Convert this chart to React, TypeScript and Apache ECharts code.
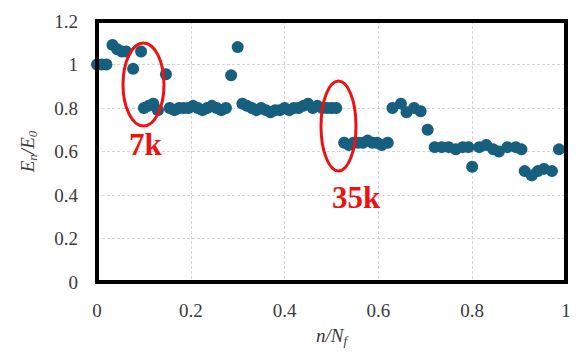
import React, { useEffect, useRef } from "react";
import * as echarts from "echarts";

const xValues = [
  0.0, 0.01, 0.02, 0.033, 0.043, 0.053, 0.062, 0.077, 0.094,
  0.1, 0.11, 0.12, 0.13, 0.147, 0.155, 0.165, 0.175, 0.185, 0.195, 0.205, 0.215, 0.225, 0.235, 0.245, 0.255, 0.265, 0.275,
  0.286, 0.3, 0.31, 0.32, 0.33, 0.34, 0.35, 0.36, 0.37, 0.38, 0.39, 0.4, 0.41, 0.42, 0.43, 0.44, 0.45, 0.46, 0.47, 0.48, 0.49, 0.5, 0.51,
  0.527, 0.537, 0.547, 0.557, 0.567, 0.577, 0.587, 0.597, 0.607, 0.62,
  0.63, 0.648, 0.66, 0.676, 0.69, 0.705,
  0.72, 0.735, 0.75, 0.765, 0.78, 0.792, 0.8, 0.815, 0.83, 0.845, 0.857, 0.875, 0.893, 0.905,
  0.912, 0.927, 0.94, 0.953, 0.97, 0.985,
];
const yValues = [
  1.0, 1.0, 1.0, 1.09, 1.07, 1.06, 1.06, 0.98, 1.06,
  0.8, 0.81, 0.82, 0.79, 0.955, 0.8, 0.79, 0.8, 0.8, 0.8, 0.81, 0.8, 0.79, 0.8, 0.81, 0.8, 0.79, 0.8,
  0.95, 1.08, 0.82, 0.81, 0.8, 0.79, 0.8, 0.79, 0.78, 0.79, 0.79, 0.8, 0.79, 0.8, 0.8, 0.81, 0.82, 0.8, 0.81, 0.8, 0.8, 0.8, 0.8,
  0.64, 0.63, 0.64, 0.64, 0.64, 0.65, 0.64, 0.64, 0.63, 0.64,
  0.8, 0.82, 0.78, 0.8, 0.785, 0.7,
  0.62, 0.62, 0.62, 0.61, 0.62, 0.62, 0.53, 0.62, 0.63, 0.61, 0.6, 0.62, 0.62, 0.61,
  0.51, 0.49, 0.51, 0.52, 0.51, 0.61,
];
const xTicks = [0, 0.2, 0.4, 0.6, 0.8, 1];
const yTicks = [0, 0.2, 0.4, 0.6, 0.8, 1, 1.2];
const annotations = ["7k", "35k"];

const SERIF = "'Liberation Serif', 'DejaVu Serif', serif";

export default function App() {
  const ref = useRef<HTMLDivElement>(null);
  useEffect(() => {
    if (!ref.current) return;
    const chart = echarts.init(ref.current, undefined, { renderer: "svg" });
    const data = xValues.map((x, i) => [x, yValues[i]]);
    chart.setOption({
      animation: false,
      grid: {
        left: 97,
        right: 13,
        top: 21,
        bottom: 78,
        show: true,
        borderColor: "#000",
        borderWidth: 4,
        z: 10,
      },
      xAxis: {
        type: "value",
        min: xTicks[0],
        max: xTicks[xTicks.length - 1],
        interval: 0.2,
        axisLine: { show: false },
        axisTick: { show: false },
        axisLabel: {
          fontFamily: SERIF,
          fontSize: 19,
          color: "#3a3a3a",
          margin: 19,
          formatter: (v: number) => String(Math.round(v * 10) / 10),
        },
        splitLine: { show: true, lineStyle: { color: "#d4d4d4", type: [3, 2], width: 1 } },
        name: "{i|n/N}{s|f}",
        nameLocation: "middle",
        nameGap: 42,
        nameTextStyle: {
          rich: {
            i: { fontFamily: SERIF, fontStyle: "italic", fontSize: 19, color: "#3a3a3a" },
            s: { fontFamily: SERIF, fontStyle: "italic", fontSize: 13, color: "#3a3a3a", padding: [10, 0, 0, 0] },
          },
        },
      },
      yAxis: {
        type: "value",
        min: yTicks[0],
        max: yTicks[yTicks.length - 1],
        interval: 0.2,
        axisLine: { show: false },
        axisTick: { show: false },
        axisLabel: {
          fontFamily: SERIF,
          fontSize: 19,
          color: "#3a3a3a",
          margin: 19,
          formatter: (v: number) => String(Math.round(v * 10) / 10),
        },
        splitLine: { show: true, lineStyle: { color: "#d4d4d4", type: [3, 2], width: 1 } },
        name: "{i|E}{s|n}{i|/E}{s|0}",
        nameLocation: "middle",
        nameGap: 58,
        nameTextStyle: {
          rich: {
            i: { fontFamily: SERIF, fontStyle: "italic", fontSize: 19, color: "#3a3a3a" },
            s: { fontFamily: SERIF, fontStyle: "italic", fontSize: 13, color: "#3a3a3a", padding: [10, 0, 0, 0] },
          },
        },
      },
      series: [
        {
          type: "scatter",
          data,
          symbol: "circle",
          symbolSize: 12,
          itemStyle: { color: "#175f7f", opacity: 1 },
          z: 5,
        },
      ],
      graphic: [
        {
          type: "ellipse",
          shape: { cx: 143.5, cy: 84.5, rx: 20.5, ry: 41.5 },
          style: { fill: "none", stroke: "#ee1111", lineWidth: 3 },
          z: 20,
        },
        {
          type: "ellipse",
          shape: { cx: 338.5, cy: 126, rx: 17.5, ry: 45 },
          style: { fill: "none", stroke: "#ee1111", lineWidth: 3 },
          z: 20,
        },
        {
          type: "text",
          left: 129,
          top: 129,
          style: {
            text: annotations[0],
            fill: "#ee1111",
            font: `bold 31px ${SERIF}`,
          },
          z: 20,
        },
        {
          type: "text",
          left: 332,
          top: 182,
          style: {
            text: annotations[1],
            fill: "#ee1111",
            font: `bold 31px ${SERIF}`,
          },
          z: 20,
        },
      ],
    });
    return () => chart.dispose();
  }, []);
  return <div ref={ref} style={{ width: 579, height: 360, position: "absolute", left: 0, top: 0 }} />;
}
